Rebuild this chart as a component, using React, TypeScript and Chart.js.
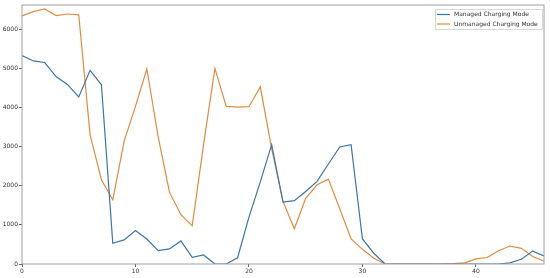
import React, { useEffect, useRef } from "react";
import { Chart, registerables } from "chart.js";

Chart.register(...registerables);

const SERIES_LABELS = ["Managed Charging Mode", "Unmanaged Charging Mode"];
const MANAGED = [
  5330, 5190, 5150, 4790, 4590, 4270, 4950, 4580, 530, 615,
  855, 640, 340, 385, 590, 170, 230, 0, 0, 160,
  1200, 2100, 3050, 1580, 1620, 1855, 2110, 2555, 2990, 3050,
  640, 275, 0, 0, 0, 0, 0, 0, 0, 0,
  0, 0, 0, 30, 120, 330, 205,
];
const UNMANAGED = [
  6340, 6450, 6520, 6350, 6390, 6370, 3300, 2150, 1640, 3140,
  4030, 4990, 3250, 1830, 1260, 975, 3050, 5000, 4030, 4010,
  4020, 4530, 2950, 1600, 900, 1680, 2025, 2170, 1410, 640,
  375, 145, 0, 0, 0, 0, 0, 0, 10, 30,
  130, 165, 340, 460, 400, 190, 75,
];
const X_TICKS = [0, 10, 20, 30, 40];
const Y_TICKS = [0, 1000, 2000, 3000, 4000, 5000, 6000];
const COLORS = ["#3b76a8", "#e08c3e"];

export default function App() {
  const ref = useRef<HTMLCanvasElement | null>(null);
  useEffect(() => {
    if (!ref.current) return;
    const font = { family: "DejaVu Sans", size: 6 };
    const boxPlugin = {
      id: "box",
      afterDraw(chart: any) {
        const { ctx, chartArea: a } = chart;
        ctx.save();
        ctx.strokeStyle = "#a0a0a0";
        ctx.lineWidth = 1;
        ctx.strokeRect(a.left, a.top, a.right - a.left, a.bottom - a.top);
        // legend
        const lx = 435.5, ly = 9.5, lw = 107, lh = 20;
        ctx.fillStyle = "rgba(255,255,255,0.8)";
        ctx.fillRect(lx, ly, lw, lh);
        ctx.strokeStyle = "#d8d8d8";
        ctx.strokeRect(lx, ly, lw, lh);
        ctx.font = "6px 'DejaVu Sans'";
        ctx.textBaseline = "middle";
        chart.data.datasets.forEach((ds: any, i: number) => {
          const y = 14.5 + i * 9.5;
          ctx.strokeStyle = ds.borderColor;
          ctx.lineWidth = 1.2;
          ctx.beginPath();
          ctx.moveTo(437, y);
          ctx.lineTo(450, y);
          ctx.stroke();
          ctx.fillStyle = "#333";
          ctx.fillText(ds.label, 454, y);
        });
        ctx.restore();
      },
    };
    const chart = new Chart(ref.current, {
      type: "line",
      data: {
        datasets: [MANAGED, UNMANAGED].map((arr, k) => ({
          label: SERIES_LABELS[k],
          data: arr.map((y, i) => ({ x: i, y })),
          borderColor: COLORS[k],
          borderWidth: 1.2,
          pointRadius: 0,
          tension: 0,
          fill: false,
        })),
      },
      options: {
        animation: false,
        responsive: false,
        maintainAspectRatio: false,
        layout: { padding: { top: 5, right: 6, left: 0, bottom: 0 } },
        plugins: { legend: { display: false }, tooltip: { enabled: false } },
        scales: {
          x: {
            type: "linear",
            min: 0,
            max: MANAGED.length - 1,
            afterBuildTicks: (s: any) => {
              s.ticks = X_TICKS.map((v) => ({ value: v }));
            },
            afterFit: (s: any) => {
              s.height = 14;
            },
            grid: { drawOnChartArea: false, drawTicks: true, tickLength: 3, color: "#666" },
            border: { display: false },
            ticks: { font, color: "#333", padding: 1, maxRotation: 0, callback: (v: any) => String(v) },
          },
          y: {
            min: 0,
            max: 6620,
            afterBuildTicks: (s: any) => {
              s.ticks = Y_TICKS.map((v) => ({ value: v }));
            },
            afterFit: (s: any) => {
              s.width = 22;
            },
            grid: { drawOnChartArea: false, drawTicks: true, tickLength: 3, color: "#666" },
            border: { display: false },
            ticks: { font, color: "#333", padding: 1, callback: (v: any) => String(v) },
          },
        },
      },
      plugins: [boxPlugin],
    });
    return () => chart.destroy();
  }, []);
  return (
    <div style={{ position: "fixed", left: 0, top: 0, width: 550, height: 278, background: "#fff" }}>
      <canvas ref={ref} width={550} height={278} style={{ width: 550, height: 278 }} />
    </div>
  );
}
